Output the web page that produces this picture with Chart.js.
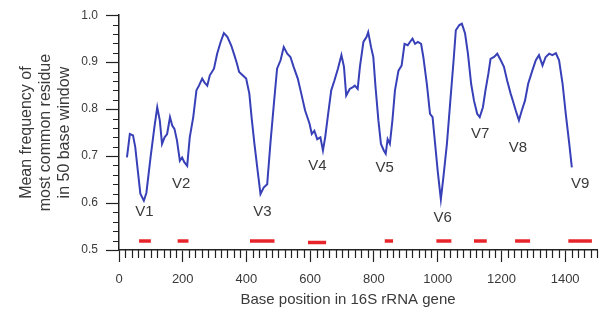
<!DOCTYPE html>
<html>
<head>
<meta charset="utf-8">
<script src="https://cdn.jsdelivr.net/npm/chart.js@4.4.0/dist/chart.umd.min.js"></script>
<style>
html,body{margin:0;padding:0;background:#fff;}
#wrap{width:607px;height:311px;position:relative;}
</style>
</head>
<body>
<div id="wrap"><canvas id="chart"></canvas></div>
<script>
// base position along the 16S gene and mean frequency of most common residue
const positions = [25,34,44,51,59,67,78,86,99,111,120,128,135,143,151,160,167,174,182,191,198,205,214,222,233,243,251,261,268,277,285,298,308,319,329,340,352,362,370,377,388,399,409,416,425,435,444,454,465,475,486,496,507,517,528,538,548,561,572,584,598,605,613,622,632,640,647,655,666,676,687,698,706,713,724,734,740,749,756,767,777,782,791,798,805,814,822,831,837,843,850,858,866,877,887,896,906,913,921,929,938,948,955,966,976,984,992,1000,1010,1018,1029,1039,1050,1057,1068,1076,1086,1095,1105,1114,1124,1132,1142,1150,1159,1166,1177,1187,1198,1208,1218,1229,1236,1245,1255,1264,1274,1284,1297,1308,1318,1329,1339,1350,1360,1371,1381,1392,1402,1413,1421];
const freq = [0.697,0.747,0.744,0.719,0.669,0.620,0.605,0.622,0.697,0.761,0.804,0.776,0.726,0.740,0.747,0.783,0.765,0.758,0.733,0.690,0.697,0.687,0.679,0.740,0.783,0.840,0.850,0.865,0.857,0.850,0.872,0.886,0.918,0.943,0.962,0.954,0.936,0.915,0.897,0.879,0.872,0.865,0.833,0.783,0.726,0.669,0.619,0.633,0.640,0.726,0.811,0.886,0.904,0.932,0.918,0.911,0.890,0.865,0.833,0.797,0.769,0.747,0.754,0.736,0.740,0.712,0.740,0.783,0.840,0.861,0.886,0.915,0.890,0.829,0.843,0.847,0.850,0.843,0.890,0.943,0.954,0.964,0.932,0.911,0.847,0.776,0.726,0.712,0.705,0.736,0.726,0.776,0.840,0.882,0.893,0.939,0.936,0.943,0.950,0.939,0.943,0.939,0.911,0.854,0.790,0.783,0.726,0.669,0.608,0.655,0.726,0.811,0.904,0.968,0.979,0.982,0.961,0.918,0.854,0.818,0.790,0.783,0.804,0.840,0.875,0.907,0.911,0.918,0.904,0.890,0.861,0.833,0.818,0.797,0.776,0.797,0.818,0.854,0.882,0.904,0.915,0.893,0.911,0.918,0.915,0.919,0.904,0.854,0.790,0.726,0.676];

// variable regions (red bars)
const regionStart = [63,184,411,593,834,996,1114,1243,1410];
const regionEnd = [100,218,488,650,860,1043,1154,1290,1484];
const regionLevel = [0.519,0.519,0.519,0.516,0.519,0.519,0.519,0.519,0.519];

// region labels
const labelText = ['V1','V2','V3','V4','V5','V6','V7','V8','V9'];
const labelX = [80,195,450,623,834,1016,1133,1252,1447];
const labelY = [0.581,0.641,0.581,0.679,0.675,0.568,0.748,0.718,0.641];

const yTitle = ['Mean frequency of','most common residue','in 50 base window'];
const xTitle = 'Base position in 16S rRNA gene';

const AXIS = '#222';
const TEXT = '#3a3a3a';

const datasets = [{
  data: positions.map((x, i) => ({x: x, y: freq[i]})),
  borderColor: '#3840b8',
  borderWidth: 2,
  pointRadius: 0,
  tension: 0
}];
regionStart.forEach((s, i) => {
  datasets.push({
    data: [{x: s, y: regionLevel[i]}, {x: regionEnd[i], y: regionLevel[i]}],
    borderColor: '#e8242b',
    borderWidth: 3.5,
    borderCapStyle: 'butt',
    pointRadius: 0
  });
});

const extras = {
  id: 'extras',
  afterDraw(chart) {
    const ctx = chart.ctx;
    const xs = chart.scales.x, ys = chart.scales.y;
    const area = chart.chartArea;
    ctx.save();
    // minor ticks
    ctx.strokeStyle = AXIS;
    ctx.lineWidth = 1.2;
    ctx.beginPath();
    for (let v = 20; v <= 1500; v += 20) {
      if (v % 200 === 0) continue;
      const px = Math.round(xs.getPixelForValue(v)) + 0.5;
      ctx.moveTo(px, area.bottom);
      ctx.lineTo(px, area.bottom + 8);
    }
    for (let k = 26; k < 50; k++) {
      if (k % 5 === 0) continue;
      const py = Math.round(ys.getPixelForValue(k / 50)) + 0.5;
      ctx.moveTo(area.left - 6, py);
      ctx.lineTo(area.left, py);
    }
    ctx.stroke();
    // region labels
    ctx.fillStyle = TEXT;
    ctx.font = '15px "Liberation Sans", Arial, sans-serif';
    ctx.textAlign = 'center';
    ctx.textBaseline = 'middle';
    labelText.forEach((t, i) => {
      ctx.fillText(t, xs.getPixelForValue(labelX[i]), ys.getPixelForValue(labelY[i]));
    });
    // axis titles
    ctx.font = '15px "Liberation Sans", Arial, sans-serif';
    ctx.fillText(xTitle, 348, 300);
    ctx.font = '16px "Liberation Sans", Arial, sans-serif';
    ctx.translate(0, (area.top + area.bottom) / 2);
    ctx.rotate(-Math.PI / 2);
    yTitle.forEach((t, i) => {
      ctx.fillText(t, 0, 27 + i * 19);
    });
    ctx.restore();
  }
};

new Chart(document.getElementById('chart'), {
  type: 'line',
  data: {datasets: datasets},
  options: {
    responsive: true,
    maintainAspectRatio: false,
    animation: false,
    layout: {padding: {top: 15, right: 10, bottom: 0, left: 0}},
    plugins: {legend: {display: false}, tooltip: {enabled: false}},
    scales: {
      x: {
        type: 'linear',
        min: 0,
        max: 1500,
        afterFit(scale) { scale.height = 61; },
        border: {display: true, color: AXIS, width: 1.5},
        grid: {drawOnChartArea: false, drawTicks: true, tickLength: 12, tickColor: AXIS, tickWidth: 1.2},
        ticks: {
          stepSize: 200,
          includeBounds: false,
          maxRotation: 0,
          padding: 10,
          color: TEXT,
          font: {family: '"Liberation Sans", Arial, sans-serif', size: 13},
          callback: v => String(v)
        }
      },
      y: {
        min: 0.5,
        max: 1.0,
        afterFit(scale) { scale.width = 119; },
        border: {display: true, color: AXIS, width: 1.5},
        grid: {drawOnChartArea: false, drawTicks: true, tickLength: 13, tickColor: AXIS, tickWidth: 1.2},
        ticks: {
          stepSize: 0.1,
          padding: 8,
          color: TEXT,
          font: {family: '"Liberation Sans", Arial, sans-serif', size: 12},
          callback: v => v.toFixed(1)
        }
      }
    }
  },
  plugins: [extras]
});
</script>
</body>
</html>
